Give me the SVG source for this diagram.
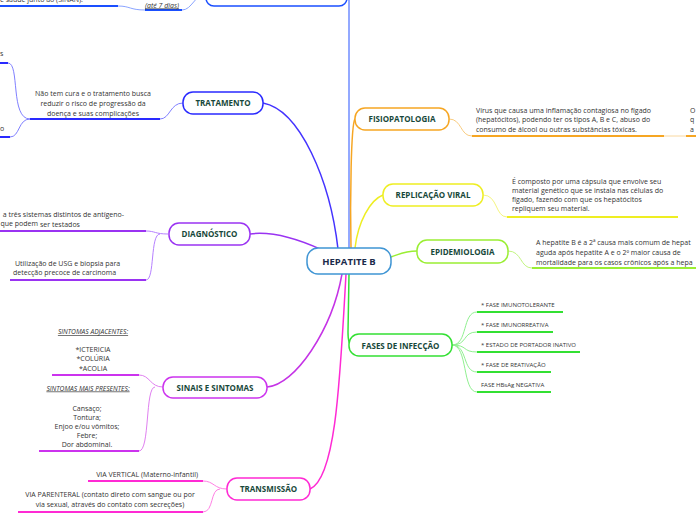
<svg xmlns="http://www.w3.org/2000/svg" width="696" height="520" viewBox="0 0 696 520">
<style>
.node{fill:#fff;stroke-width:1.5}
.lbl{font-family:"Open Sans","Noto Sans",sans-serif;font-weight:bold;font-size:8px;fill:#17483a;text-anchor:middle}
.t{font-family:"Open Sans","Noto Sans",sans-serif;font-size:7px;fill:#333}
.ts{font-family:"Open Sans","Noto Sans",sans-serif;font-size:6px;fill:#333}
.th{font-family:"Open Sans","Noto Sans",sans-serif;font-size:6.7px;fill:#333}
.mid{text-anchor:middle}
.end{text-anchor:end}
.ul{font-style:italic;text-decoration:underline}
.c{fill:none;stroke-width:1.5;stroke-linecap:round}
.u{fill:none;stroke-width:2}
.s{fill:none;stroke-width:1}
</style>
<rect width="696" height="520" fill="#fff"/>
<g id="connectors">
<path class="c" stroke="#6f8cff" d="M349,0 L349,248"/>
<path class="c" stroke="#4433ff" d="M263,103 C300,110 330,180 338,249"/>
<path class="c" stroke="#9a33f2" d="M250,234 C272,231 298,239 322,250"/>
<path class="c" stroke="#c533e6" d="M267,387 C295,385 332,330 342,274"/>
<path class="c" stroke="#ff2ad4" d="M310,489 C336,478 340,380 346,274"/>
<path class="c" stroke="#f6a623" d="M355,119 C351,124 350,200 351,248"/>
<path class="c" stroke="#eeee22" d="M383,195 C370,200 358,222 355,248"/>
<path class="c" stroke="#9aee33" d="M391,257 C400,254 405,251 417,251"/>
<path class="c" stroke="#33e033" d="M349,274 L348,332 Q348,345 352,345"/>
<path class="s" stroke="#8aa4ff" d="M206,-6 C195,-6 192,10 182,10"/>
<path class="s" stroke="#8aa4ff" d="M145,10 C130,10 130,6 118,6"/>
<path class="u" stroke="#1a4fff" d="M0,6 L118,6"/>
<path class="u" stroke="#1a4fff" d="M145,10 L182,10"/>
<path class="s" stroke="#8080ff" d="M183,103 C170,103 170,119 160,119"/>
<path class="u" stroke="#2a2aff" d="M30,119 L160,119"/>
<path class="s" stroke="#8080ff" d="M30,119 C10,119 20,63 8,63"/>
<path class="s" stroke="#8080ff" d="M30,119 C18,119 20,137 10,137"/>
<path class="u" stroke="#2a2aff" d="M0,63 L8,63"/>
<path class="u" stroke="#2a2aff" d="M0,137 L10,137"/>
<path class="s" stroke="#b680ff" d="M168,234 C155,234 155,231 146,231"/>
<path class="s" stroke="#b680ff" d="M160,234 C150,234 155,280 146,280"/>
<path class="u" stroke="#9a33f2" d="M0,231 L146,231"/>
<path class="u" stroke="#9a33f2" d="M10,280 L146,280"/>
<path class="s" stroke="#e080f0" d="M163,387 C150,387 150,375 139,375"/>
<path class="s" stroke="#e080f0" d="M155,387 C145,387 150,451 139,451"/>
<path class="u" stroke="#cc33ee" d="M52,375 L139,375"/>
<path class="u" stroke="#cc33ee" d="M39,451 L139,451"/>
<path class="s" stroke="#ff80e4" d="M227,489 C214,489 214,481 203,481"/>
<path class="s" stroke="#ff80e4" d="M220,489 C210,489 214,512 203,512"/>
<path class="u" stroke="#ff2ad4" d="M88,481 L203,481"/>
<path class="u" stroke="#ff2ad4" d="M18,512 L203,512"/>
<path class="s" stroke="#f9cc80" d="M449,119 C462,119 460,136 472,136"/>
<path class="u" stroke="#f6a623" d="M472,136 L664,136"/>
<path class="s" stroke="#f9d8a0" d="M664,136 L686,136"/>
<path class="u" stroke="#f6a623" d="M686,136 L696,136"/>
<path class="s" stroke="#f5f580" d="M483,195 C498,195 495,217 507,217"/>
<path class="u" stroke="#eeee22" d="M507,217 L678,217"/>
<path class="s" stroke="#c2f580" d="M508,251 C522,251 520,268 532,268"/>
<path class="u" stroke="#9aee33" d="M532,268 L696,268"/>
<path class="s" stroke="#90f090" d="M452,345 C468,345 462,312 477,312"/>
<path class="s" stroke="#90f090" d="M452,345 C468,345 462,332 477,332"/>
<path class="s" stroke="#90f090" d="M452,345 C468,345 462,352 477,352"/>
<path class="s" stroke="#90f090" d="M452,345 C468,345 462,372 477,372"/>
<path class="s" stroke="#90f090" d="M452,345 C468,345 462,392 477,392"/>
<path class="u" stroke="#33e033" d="M477,312 L563,312"/>
<path class="u" stroke="#33e033" d="M477,332 L553,332"/>
<path class="u" stroke="#33e033" d="M477,352 L580,352"/>
<path class="u" stroke="#33e033" d="M477,372 L551,372"/>
<path class="u" stroke="#33e033" d="M477,392 L551,392"/>
</g>
<g id="top">
<rect class="node" x="206" y="-20" width="141" height="26" rx="8" stroke="#1a4fff"/>
<text class="t" x="0" y="1.5">e saúde junto ao (SINAN).</text>
<text class="t ul" x="145" y="7.5">(até 7 dias)</text>
</g>
<g id="central">
<rect x="307" y="248" width="84" height="26" rx="11" fill="#fff" stroke="#3f95d4" stroke-width="1.5"/>
<text x="349" y="264.5" font-family="Open Sans, Noto Sans, sans-serif" font-weight="bold" font-size="9.5" fill="#1b2a4a" text-anchor="middle">HEPATITE B</text>
</g>
<g id="tratamento">
<rect class="node" x="183" y="92" width="80" height="22" rx="10" stroke="#2a2aff"/>
<text class="lbl" x="223" y="106">TRATAMENTO</text>
<text class="t" x="0" y="56">s</text>
<text class="t" x="0" y="131">o</text>
<text class="t mid" x="93" y="95.5">Não tem cura e o tratamento busca</text>
<text class="t mid" x="93" y="105.5">reduzir o risco de progressão da</text>
<text class="t mid" x="93" y="115.5">doença e suas complicações</text>
</g>
<g id="diagnostico">
<rect class="node" x="169" y="223" width="81" height="22" rx="10" stroke="#9a33f2"/>
<text class="lbl" x="209.5" y="237">DIAGNÓSTICO</text>
<text class="t end" x="124" y="216.5">a três sistemas distintos de antígeno-</text>
<text class="t end" x="38" y="225.5">que podem</text>
<text class="t" x="40" y="226.5">ser testados</text>
<text class="t" x="15" y="265.5">Utilização de USG e biopsia para</text>
<text class="t" x="13" y="275">detecção precoce de carcinoma</text>
</g>
<g id="sinais">
<rect class="node" x="163" y="377" width="104" height="21" rx="10" stroke="#cc33ee"/>
<text class="lbl" x="215" y="390.5">SINAIS E SINTOMAS</text>
<text class="th mid ul" x="93" y="334">SINTOMAS ADJACENTES:</text>
<text class="t mid" x="93" y="351.5">*ICTERICIA</text>
<text class="t mid" x="93" y="361">*COLÚRIA</text>
<text class="t mid" x="93" y="370.5">*ACOLIA</text>
<text class="th mid ul" x="88" y="390.5">SINTOMAS MAIS PRESENTES:</text>
<text class="t mid" x="87" y="410.5">Cansaço;</text>
<text class="t mid" x="87" y="419.5">Tontura;</text>
<text class="t mid" x="87" y="428.5">Enjoo e/ou vômitos;</text>
<text class="t mid" x="87" y="437.5">Febre;</text>
<text class="t mid" x="87" y="446.5">Dor abdominal.</text>
</g>
<g id="transmissao">
<rect class="node" x="227" y="478" width="83" height="22" rx="10" stroke="#ff2ad4"/>
<text class="lbl" x="268.5" y="492">TRANSMISSÃO</text>
<text class="t end" x="198" y="476.5">VIA VERTICAL (Materno-infantil)</text>
<text class="t mid" x="110" y="496.5">VIA PARENTERAL (contato direto com sangue ou por</text>
<text class="t mid" x="110" y="506.5">via sexual, através do contato com secreções)</text>
</g>
<g id="fisiopatologia">
<rect class="node" x="355" y="108" width="94" height="22" rx="10" stroke="#f6a623"/>
<text class="lbl" x="402" y="122">FISIOPATOLOGIA</text>
<text class="t" x="476" y="112.5">Vírus que causa uma inflamação contagiosa no fígado</text>
<text class="t" x="476" y="122">(hepatócitos), podendo ter os tipos A, B e C, abuso do</text>
<text class="t" x="476" y="131.5">consumo de álcool ou outras substâncias tóxicas.</text>
<text class="t" x="690" y="112.5">O</text>
<text class="t" x="690" y="122">q</text>
<text class="t" x="690" y="131.5">a</text>
</g>
<g id="replicacao">
<rect class="node" x="383" y="184" width="100" height="22" rx="10" stroke="#eeee22"/>
<text class="lbl" x="433" y="198">REPLICAÇÃO VIRAL</text>
<text class="t" x="512" y="183.5">É composto por uma cápsula que envolve seu</text>
<text class="t" x="512" y="192.5">material genético que se instala nas células do</text>
<text class="t" x="512" y="201.5">fígado, fazendo com que os hepatócitos</text>
<text class="t" x="512" y="211">repliquem seu material.</text>
</g>
<g id="epidemiologia">
<rect class="node" x="417" y="240" width="91" height="23" rx="10" stroke="#9aee33"/>
<text class="lbl" x="462.5" y="254.5">EPIDEMIOLOGIA</text>
<text class="t" x="536" y="244.5">A hepatite B é a 2ª causa mais comum de hepat</text>
<text class="t" x="536" y="254.5">aguda após hepatite A e o 2º maior causa de</text>
<text class="t" x="536" y="264.5">mortalidade para os casos crônicos após a hepa</text>
</g>
<g id="fases">
<rect class="node" x="349" y="334" width="103" height="22" rx="10" stroke="#33e033"/>
<text class="lbl" x="400.5" y="348.5">FASES DE INFECÇÃO</text>
<text class="ts" x="481" y="307">* FASE IMUNOTOLERANTE</text>
<text class="ts" x="481" y="327">* FASE IMUNORREATIVA</text>
<text class="ts" x="481" y="347">* ESTADO DE PORTADOR INATIVO</text>
<text class="ts" x="481" y="367">* FASE DE REATIVAÇÃO</text>
<text class="ts" x="481" y="387">FASE HBsAg NEGATIVA</text>
</g>
</svg>
